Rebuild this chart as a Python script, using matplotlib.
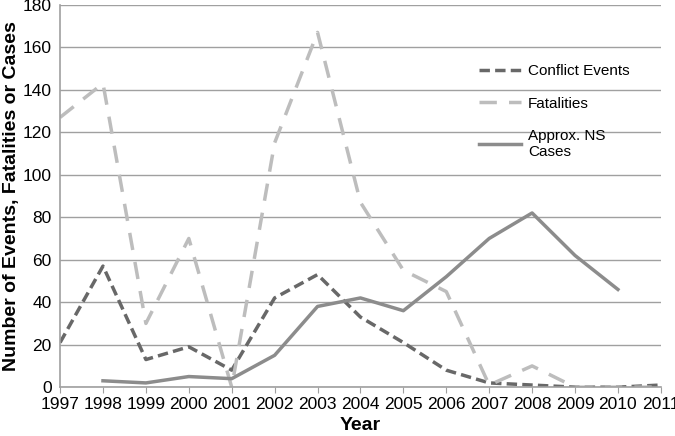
import numpy as np
import matplotlib.pyplot as plt

years = list(range(1997, 2012))
conflict = [21, 57, 13, 19, 8, 42, 53, 33, 21, 8, 2, 1, 0, 0, 1]
fatalities = [127, 143, 30, 70, 0, 115, 167, 87, 55, 45, 1, 10, 0, 0, 0]
ns_years = list(range(1998, 2011))
ns_cases = [3, 2, 5, 4, 15, 38, 42, 36, 52, 70, 82, 62, 46]

plt.rcParams['font.family'] = ['Liberation Sans', 'DejaVu Sans']

fig = plt.figure(figsize=(6.75, 4.36), dpi=100)
ax = fig.add_axes([0.089, 0.112, 0.890, 0.877])

ax.plot(years, conflict, color='#686868', lw=2.5, dashes=(3, 1.5), label='Conflict Events')
ax.plot(years, fatalities, color='#bdbdbd', lw=2.5, dashes=(5, 3.5), label='Fatalities')
ax.plot(ns_years, ns_cases, color='#8c8c8c', lw=2.5, label='Approx. NS\nCases')

ax.set_xlim(1997, 2011)
ax.set_ylim(0, 180)
ax.set_yticks(range(0, 181, 20))
ax.set_xticks(years)
ax.yaxis.grid(True, color='#a0a0a0', lw=1)
ax.set_axisbelow(True)
for s in ['top', 'right']:
    ax.spines[s].set_visible(False)
for s in ['left', 'bottom']:
    ax.spines[s].set_color('#a0a0a0')
    ax.spines[s].set_linewidth(1.2)
ax.tick_params(axis='y', length=0, labelsize=12.5, pad=6)
ax.tick_params(axis='x', length=4, color='#a0a0a0', labelsize=12.5, pad=3)

ax.set_xlabel('Year', fontsize=14, fontweight='bold', labelpad=4)
ax.set_ylabel('Number of Events, Fatalities or Cases', fontsize=14, fontweight='bold', labelpad=2)

leg = ax.legend(loc='upper left', bbox_to_anchor=(0.675, 0.88), frameon=False,
                fontsize=11, handlelength=2.7, labelspacing=1.2, handletextpad=0.5)
for t in leg.get_texts():
    t.set_multialignment('left')

fig.savefig('out.png', dpi=100)
